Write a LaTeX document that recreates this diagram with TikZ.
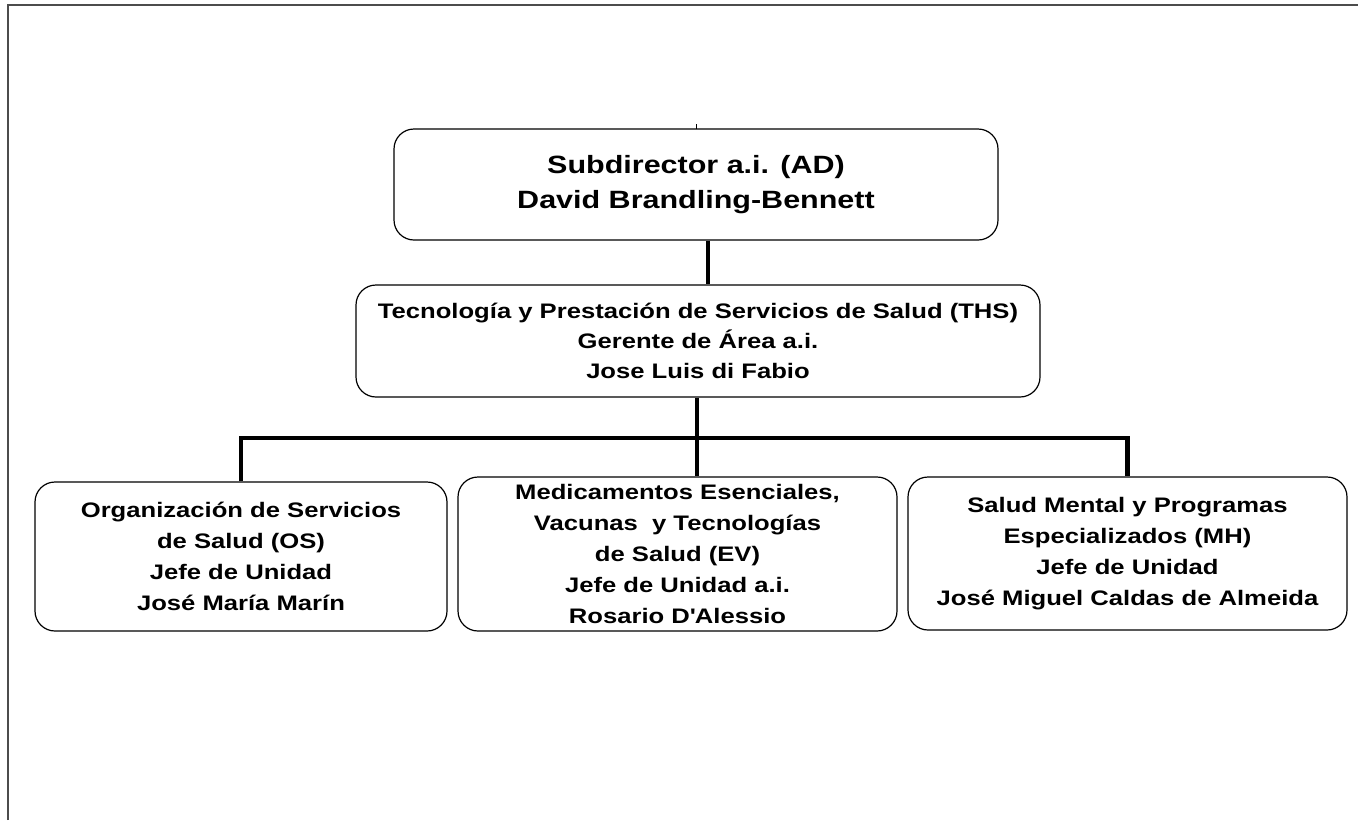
\documentclass[tikz,border=0pt]{standalone}
\usepackage{fontspec}
\setmainfont{Liberation Sans}[FakeStretch=1.22]
\usetikzlibrary{arrows.meta}

\begin{document}
\begin{tikzpicture}[x=1pt, y=-1pt,
        unitbox/.style={draw, line width=1.2pt, rounded corners=20pt, inner sep=0pt, align=center,
                        font=\bfseries\fontsize{21}{31}\selectfont},
        link/.style={line width=4.5pt},
        frameline/.style={gray!60!black, line width=2pt}]
                \useasboundingbox (0,0) rectangle (1358,820);
                \draw[frameline] (8,820) -- (8,5) -- (1358,5);

                \node[unitbox, minimum width=604pt, minimum height=111pt, font=\bfseries\fontsize{25}{35}\selectfont] (sub) at (696,184.5)
                    {Subdirector a.i. (AD)\\David Brandling-Bennett};
                \draw[line width=0.8pt] (696,124) -- (696,129);

                \node[unitbox, minimum width=684pt, minimum height=112pt, font=\bfseries\fontsize{21}{30}\selectfont] (ths) at (698,341)
                    {Tecnología y Prestación de Servicios de Salud (THS)\\Gerente de Área a.i.\\Jose Luis di Fabio};

                \node[unitbox, minimum width=412pt, minimum height=149pt] (os) at (241,556.5)
                    {Organización de Servicios\\de Salud (OS)\\Jefe de Unidad\\José María Marín};
                \node[unitbox, minimum width=439pt, minimum height=154pt] (ev) at (677.5,554)
                    {Medicamentos Esenciales,\\Vacunas~ y Tecnologías\\de Salud (EV)\\Jefe de Unidad a.i.\\Rosario D\textquotesingle Alessio};
                \node[unitbox, minimum width=439pt, minimum height=153pt] (mh) at (1127.5,553.5)
                    {Salud Mental y Programas\\Especializados (MH)\\Jefe de Unidad\\José Miguel Caldas de Almeida};

                \coordinate (bus) at (697,438);
                \draw[link] ([xshift=12pt]sub.south) -- ([xshift=12pt]sub.south |- ths.north);
                \draw[link] ([xshift=-1pt]ths.south) -- ([xshift=-1pt]ths.south |- ev.north);
                \draw[link] (os.north) |- (bus) -| (mh.north);
\end{tikzpicture}
\end{document}
